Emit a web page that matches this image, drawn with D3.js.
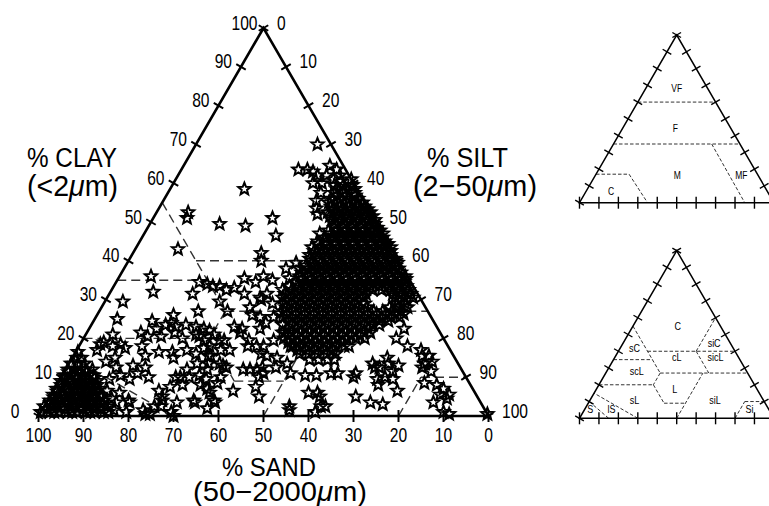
<!DOCTYPE html>
<html>
<head>
<meta charset="utf-8">
<script src="https://cdn.jsdelivr.net/npm/d3@7"></script>
<style>
  body { margin: 0; background: #fff; }
  svg { display: block; }
  text { font-family: "Liberation Sans", Arial, Helvetica, sans-serif; fill: #000; }
</style>
</head>
<body>
<svg id="chart" width="769" height="506"></svg>
<script>
// ---- Data: every sample is [silt %, clay %]; sand % = 100 - silt - clay ----
const tickValues = [0, 10, 20, 30, 40, 50, 60, 70, 80, 90, 100];

// very sandy samples crowded in the sand corner
const sandyCluster = [
  [0,1],[2,1],[3,1],[4,1],[6,1],[7,1],[8,1],[10,1],[11,1],[12,1],[14,1],[15,1],[16,1.5],
  [1,1.8],[2.5,1.8],[5,1.8],[6.5,1.8],[9,1.8],[11.5,1.8],[13,1.8],
  [0,2.5],[2,2.5],[3,2.5],[4.5,2.5],[6,2.5],[7,2.5],[8.5,2.5],[10,2.5],[11,2.5],[12.5,2.5],[14,2.5],
  [1,3.3],[2.5,3.3],[5,3.3],[7.5,3.3],[9.5,3.3],[12,3.3],
  [0.5,4],[2,4],[3,4],[4.5,4],[6,4],[7,4],[8.5,4],[10,4],[11,4],[12.5,4],[14,4.5],
  [1,4.8],[3.5,4.8],[5.5,4.8],[7.5,4.8],[9.5,4.8],[11.5,4.8],
  [0.5,5.5],[2,5.5],[3,5.5],[4.5,5.5],[6,5.5],[7,5.5],[8.5,5.5],[10,5.5],[11,5.5],
  [1,6.3],[3.5,6.3],[5.5,6.3],[7.5,6.3],[9.5,6.3],
  [0.5,7],[2,7],[3,7],[4.5,7],[6,7],[7,7],[8.5,7],[10,7],
  [1,8],[3.5,8],[5.5,8],[7.5,8],[9,8],
  [0.5,9],[2,9],[3,9],[4.5,9],[6,9],[7,9],[8.5,9],
  [1,9.8],[3.5,9.8],[5.5,9.8],[7.5,9.8],
  [0.5,10.5],[2,10.5],[3,10.5],[4.5,10.5],[6,10.5],[7,10.5],
  [1,11.3],[3,11.3],[5,11.3],
  [0.5,12],[2,12],[3.5,12],[4.5,12],[6,12],
  [0.5,13.5],[2,13.5],[3.5,13.5],[1,15],[2,15],[0.5,16.5]
];

// silty-clay to silt-loam samples forming the dense band
const siltyBand = [
  [26,63.5],[28,63.5],[29.5,63],[31,62],[32.5,64.5],[34.5,63.5],[35,61],[27,70],[39,61],
  [31,60],[33,60],[33,62],[36,62],[37,60.5],
  [36,59.5],[38,59.5],[40,59.5],
  [37,58.5],[39,58.5],[41,58.5],
  [34,57.5],[37,57.5],[39,57.5],[41.5,57.5],
  [38,56.8],[40,56.8],[42,56.8],
  [34,55.5],[37,56],[39,56],[41,56],[43,56],
  [37,55],[39,55],[41,55],[43,55],[44.5,55],
  [35,53.5],[38,54],[40,54],[42,54],[44,54],[45.5,54],
  [39,53.3],[41,53.3],[43,53.3],[45,53.3],[46.5,53.3],
  [36,52],[38,52.5],[40,52.5],[42,52.5],[44,52.5],[46,52.5],[47.5,52.5],
  [39,51.5],[41,51.5],[43,51.5],[45,51.5],[47,51.5],[48.5,51.5],
  [40,50.5],[42,50.5],[44,50.5],[46,50.5],[48,50.5],[49.5,50.5],
  [41,49.5],[43,49.5],[45,49.5],[47,49.5],[49,49.5],[50,49.5],
  [41.5,48.5],[43.5,48.5],[45.5,48.5],[47.5,48.5],[49.5,48.5],[51,48.5],
  [40.5,47.8],[42.5,47.8],[44.5,47.8],[46.5,47.8],[48.5,47.8],[50.5,47.8],[52,47.8],
  [39,47],[41.5,47],[43.5,47],[45.5,47],[47.5,47],[49.5,47],[51.5,47],[53,47],
  [40.5,46],[42.5,46],[44.5,46],[46.5,46],[48.5,46],[50.5,46],[52.5,46],[53.5,46],
  [39.5,45],[41.5,45],[43.5,45],[45.5,45],[47.5,45],[49.5,45],[51.5,45],[53.5,45],[54.5,45],
  [40,44.3],[42,44.3],[44,44.3],[46,44.3],[48,44.3],[50,44.3],[52,44.3],[54,44.3],[55.5,44.3],
  [39,43.5],[41,43.5],[43,43.5],[45,43.5],[47,43.5],[49,43.5],[51,43.5],[53,43.5],[55,43.5],[56.5,43.5],
  [40,42.5],[42,42.5],[44,42.5],[46,42.5],[48,42.5],[50,42.5],[52,42.5],[54,42.5],[56,42.5],[57,42.5],
  [39.5,41.5],[41.5,41.5],[43.5,41.5],[45.5,41.5],[47.5,41.5],[49.5,41.5],[51.5,41.5],[53.5,41.5],[55.5,41.5],[57.5,41.5],
  [40,40.5],[42,40.5],[44,40.5],[46,40.5],[48,40.5],[50,40.5],[52,40.5],[54,40.5],[56,40.5],[58,40.5],[59,40.5],
  [41,39.5],[43,39.5],[45,39.5],[47,39.5],[49,39.5],[51,39.5],[53,39.5],[55,39.5],[57,39.5],[59,39.5],[60,39.5],
  [40,38.8],[42,38.8],[44,38.8],[46,38.8],[48,38.8],[50,38.8],[52,38.8],[54,38.8],[56,38.8],[58,38.8],[60,38.8],
  [39,38],[41,38],[43,38],[45,38],[47,38],[49,38],[51,38],[53,38],[55,38],[57,38],[59,38],[61,38],
  [40,37],[42,37],[44,37],[46,37],[48,37],[50,37],[52,37],[54,37],[56,37],[58,37],[60,37],[62,37],
  [40,36],[42,36],[44,36],[46,36],[48,36],[50,36],[52,36],[54,36],[56,36],[58,36],[60,36],[62,36],[63.5,36],
  [41,35.3],[43,35.3],[45,35.3],[47,35.3],[49,35.3],[51,35.3],[53,35.3],[55,35.3],[57,35.3],[59,35.3],[61,35.3],[63,35.3],[64,35.3],
  [40,34.5],[42,34.5],[44,34.5],[46,34.5],[48,34.5],[50,34.5],[52,34.5],[54,34.5],[56,34.5],[58,34.5],[60,34.5],[62,34.5],[64,34.5],
  [39,33.5],[41,33.5],[43,33.5],[45,33.5],[47,33.5],[49,33.5],[51,33.5],[53,33.5],[55,33.5],[57,33.5],[59,33.5],[61,33.5],[63,33.5],[65,33.5],
  [38,32.5],[40,32.5],[42,32.5],[44,32.5],[46,32.5],[48,32.5],[50,32.5],[52,32.5],[54,32.5],[56,32.5],[58,32.5],[60,32.5],[62,32.5],[64,32.5],[66,32.5],
  [39,31.5],[41,31.5],[43,31.5],[45,31.5],[47,31.5],[49,31.5],[51,31.5],[53,31.5],[55,31.5],[57,31.5],[63,31.5],[65,31.5],[67,31.5],
  [39,30.5],[41,30.5],[43,30.5],[45,30.5],[47,30.5],[49,30.5],[51,30.5],[53,30.5],[55,30.5],[57,30.5],[64,30.5],[66,30.5],[68,30.5],
  [40,29.8],[42,29.8],[44,29.8],[46,29.8],[48,29.8],[50,29.8],[52,29.8],[54,29.8],[56,29.8],[65,29.8],[67,29.8],
  [40,29],[42,29],[44,29],[46,29],[48,29],[50,29],[52,29],[54,29],[56,29],[58,29],[65,29],[67,29],
  [41,28],[43,28],[45,28],[47,28],[49,28],[51,28],[53,28],[55,28],[57,28],[59,28],[64,28],[66,28],[68,28],
  [41,27],[43,27],[45,27],[47,27],[49,27],[51,27],[53,27],[55,27],[57,27],[59,27],[61,27],[63,27],[65,27],[67,27],
  [42,26.3],[44,26.3],[46,26.3],[48,26.3],[50,26.3],[52,26.3],[54,26.3],[56,26.3],[58,26.3],[60,26.3],[62,26.3],[64,26.3],[66,26.3],[68,26.3],
  [41.5,25.5],[43.5,25.5],[45.5,25.5],[47.5,25.5],[49.5,25.5],[51.5,25.5],[53.5,25.5],[55.5,25.5],[57.5,25.5],[59.5,25.5],[61.5,25.5],[63.5,25.5],[65.5,25.5],[67.5,25.5],
  [43.5,24.5],[45.5,24.5],[47.5,24.5],[49.5,24.5],[51.5,24.5],[53.5,24.5],[55.5,24.5],[57.5,24.5],[59.5,24.5],[61.5,24.5],[63.5,24.5],[65.5,24.5],
  [42.5,23.5],[44.5,23.5],[46.5,23.5],[48.5,23.5],[50.5,23.5],[52.5,23.5],[54.5,23.5],[56.5,23.5],[58.5,23.5],[60.5,23.5],[62.5,23.5],[64,23.5],
  [44,22.5],[46,22.5],[48,22.5],[50,22.5],[52,22.5],[54,22.5],[56,22.5],[58,22.5],[60,22.5],[62,22.5],
  [43.5,21.5],[45.5,21.5],[47.5,21.5],[49.5,21.5],[51.5,21.5],[53.5,21.5],[55.5,21.5],[57.5,21.5],[59.5,21.5],[61.5,21.5],[63,21.5],
  [45,20.8],[47,20.8],[49,20.8],[51,20.8],[53,20.8],[55,20.8],[57,20.8],[59,20.8],[61,20.8],
  [44.5,20],[46.5,20],[48.5,20],[50.5,20],[52.5,20],[54.5,20],[56.5,20],[58.5,20],[60.5,20],[62.5,20],
  [46,19],[48,19],[50,19],[52,19],[54,19],[56,19],[58,19],
  [47,18],[49,18],[51,18],[53,18],[55,18],[57,18],[59,18],[60,18],
  [49,17],[51,17],[53,17],[55,17],[57,17],
  [50,16],[52,16],[54,16],[56,16],[58,16],
  [53,14.5],[55,14.5],[57,14.5],[58.5,14.5]
];

// remaining, more isolated samples
const scattered = [
  [16.5,58.5],[7,52.5],[7.5,51],[15.5,49.5],[21.5,49],[26.5,51],[29.5,46.5],[9.5,43],[28.5,42],[29.5,40],
  [7,36],[9.5,32],[4,29.5],[5,25],[13,24.5],[18.5,31.5],[22,27],[20.5,34],[22,33.5],[23.5,33.5],
  [25.5,32.5],[27,33],[18.5,34.5],[25.5,29.5],[28.5,27],[28,35.5],[30,31.5],[33,28],[34.5,26],[17,26],
  [17.5,24],[19.5,21.5],[15,22.5],[17,20.5],[12,21.5],[14,20.5],[14,18],[9,18.5],[10.5,17.5],[24.5,21],
  [27,19.5],[28.5,21],[30.5,19.5],[29,18],[24.5,17],[27,16],[21.5,16.5],[22.5,15],[32,23],[34,21.5],
  [37,19.5],[37.5,18],[39.5,18],[38,22.5],[38.5,24],[39.5,25.5],[37.5,29],[34,30.5],[35,31.5],[31,34.5],
  [32,36],[34.5,35],[30.5,15.5],[33.5,13.5],[35.5,12.5],[30.5,10.5],[31.5,12],[35.5,10],[27,12],[25.5,10],
  [28,8],[32,8],[34,7],[40,6.5],[39.5,12],[41,12],[42.5,12],[44.5,11],[44.5,7.5],[46.5,5],
  [37,4],[36.5,2],[32.5,4],[23.5,6.5],[25.5,4],[18,4],[23.5,0.5],[30,0],[36,38],[37.5,39.5],
  [38,35.5],[25.5,22.5],[27,22],[25.5,20.5],[31.5,19.5],[34,17],[34,22.5],[30,15.5],[32,17],[28.5,13.5],
  [34.5,13],[41.5,16],[43,15.5],[45.5,15],[46.5,12.5],[48.5,13.5],[44,10],[32.5,9.5],[35.5,8.5],[35,6],
  [33,3.5],[37.5,3.5],[54.5,2.5],[50.5,11],[54,10.5],[56.5,10.5],[57,6],[59,6],[61.5,2.5],[61,1],
  [59.5,11],[61,11],
  [16.5,23.5],[19,23],[21,23.5],[23.5,23],[6,21],[4.5,18.5],[5,19],[7.5,18],[4.5,17],[16,15.5],
  [17.5,12.5],[19.5,10],[18.5,16.5],[22,20],[28,17.5],[26.5,10],[28.5,10],[25.5,7.5],[25,5],[29,3.5],
  [24.5,2.5],[22.5,1.5],[18.5,3.5],[19,1],[9.5,15],[11,12.5],[13,10.5],[15.5,9.5],[14.5,13],[16.5,11],
  [8,14],[11,9.5],[12,6.5],[15,6],[15.5,3.5],[24.5,0.5],[29,1],[31,13.5],
  [55,1.5],[68,5],[72,3.5],[75,3],[76.5,6.5],[65,11],[67.5,13.5],[69.5,12.5],[71,13.5],[73,11.5],
  [72,10],[70.5,9.5],[74,9.5],[77.5,15.5],[76.5,17],[79,15.5],[79,13.5],[80.5,14],[81.5,11.5],[79,12.5],
  [84.5,8],[86.5,7],[86.5,5.5],[88.5,4.5],[86,3.5],[89.5,1],[43.5,12.5],[70,22.5],[69.5,20],[73,18],
  [70,15],[73.5,13],[68.5,12.5],[71.5,8],[65,10],[81.5,8.5],[99.5,0.5],[26,2.5],[60,5],[62.5,2.5],
  [88.5,5.5],[91,0.5],
  [34.5,30],[40.5,26.5],[36.5,25.5],[42.5,19.5],[41,18],[44,21.5],[47.5,18]
];

// texture-class boundaries, as [silt, clay] end points
const textureBoundaries = [
  [[0,55],[28,27]], [[0,35],[20,35]], [[15,40],[60,40]], [[40,40],[40,60]],
  [[40,40],[53,27]], [[28,27],[73,27]], [[28,27],[28,20]], [[0,20],[28,20]],
  [[28,20],[39,9]], [[39,9],[50,9]], [[50,0],[50,27]], [[80,0],[80,10]],
  [[80,10],[90,10]], [[30,0],[0,15]], [[15,0],[0,10]]
];
const textureNames = ["C","sC","siC","cL","sicL","scL","L","sL","siL","S","lS","Si"];
const textureLabelAt = [[23,55],[7.5,41.5],[47,44.5],[32,36],[52,36],[15.5,28],[40.5,17],[23,10.5],[64.5,10.5],[3,5],[14,5],[85,5]];

// sand-fraction classes (coarse, medium, fine, very fine, medium-fine)
const sandFractionBoundaries = [
  [[0,60],[40,60]], [[0,35],[65,35]], [[50.5,35],[85,0]], [[0,17],[17,17]], [[17,17],[35,0]]
];
const sandFractionNames = ["VF","F","M","MF","C"];
const sandFractionLabelAt = [[16,68],[27,44.5],[42,16.5],[75,16.5],[13,6.5]];

// ---- Drawing ----
const svg = d3.select("#chart");

function ternaryFrame(left, right, base, top) {
  const x = d3.scaleLinear().domain([0, 100]).range([left, right]);
  const y = d3.scaleLinear().domain([0, 100]).range([base, top]);
  return ([silt, clay]) => [x(silt + clay / 2), y(clay)];
}

const mainPos = ternaryFrame(38.5, 488.5, 416, 28);
const topPos = ternaryFrame(579.5, 773.9, 202.7, 35);
const lowPos = ternaryFrame(579.5, 773.9, 418.3, 250.7);

function unitNormal(a, b) {
  const dx = b[0] - a[0], dy = b[1] - a[1], len = Math.hypot(dx, dy);
  return [-dy / len, dx / len];
}

function drawFrame(g, pos, o) {
  const A = pos([0, 0]), B = pos([100, 0]), C = pos([0, 100]);
  // dashed class boundaries
  g.append("g").selectAll("line").data(o.boundaries).join("line")
    .attr("x1", d => pos(d[0])[0]).attr("y1", d => pos(d[0])[1])
    .attr("x2", d => pos(d[1])[0]).attr("y2", d => pos(d[1])[1])
    .attr("stroke", o.dashColor).attr("stroke-width", o.dashWidth)
    .attr("stroke-dasharray", o.dash);
  // outline
  g.append("path").attr("d", d3.line()([A, B, C]) + "Z")
    .attr("fill", "none").attr("stroke", "#000").attr("stroke-width", o.frameWidth)
    .attr("stroke-linejoin", "miter");
  const nl = unitNormal(A, C), nr = unitNormal(C, B);
  const ticks = g.append("g").attr("stroke", "#000").attr("stroke-width", o.tickWidth);
  tickValues.forEach(v => {
    const pb = pos([100 - v, 0]), pl = pos([0, v]), pr = pos([v, 100 - v]);
    ticks.append("line").attr("x1", pb[0]).attr("y1", pb[1] - o.tick)
      .attr("x2", pb[0]).attr("y2", pb[1] + o.tick);
    ticks.append("line").attr("x1", pl[0] - nl[0] * o.edgeTick).attr("y1", pl[1] - nl[1] * o.edgeTick)
      .attr("x2", pl[0] + nl[0] * o.edgeTick).attr("y2", pl[1] + nl[1] * o.edgeTick);
    ticks.append("line").attr("x1", pr[0] - nr[0] * o.edgeTick).attr("y1", pr[1] - nr[1] * o.edgeTick)
      .attr("x2", pr[0] + nr[0] * o.edgeTick).attr("y2", pr[1] + nr[1] * o.edgeTick);
  });
}

function squeezedText(g, str, x, y, anchor, size, sx) {
  return g.append("text")
    .attr("transform", `translate(${x},${y}) scale(${sx},1)`)
    .attr("text-anchor", anchor).attr("font-size", size).text(str);
}

// main triangle
const main = svg.append("g");
drawFrame(main, mainPos, {
  boundaries: textureBoundaries, dash: "9,5", dashColor: "#333", dashWidth: 1.4,
  frameWidth: 2.6, tickWidth: 2, tick: 6, edgeTick: 5.5
});

// star markers
function starPath(R, r) {
  let d = "";
  for (let i = 0; i < 10; i++) {
    const a = -Math.PI / 2 + i * Math.PI / 5, rr = i % 2 ? r : R;
    d += (i ? "L" : "M") + (rr * Math.cos(a)).toFixed(2) + "," + (rr * Math.sin(a)).toFixed(2);
  }
  return d + "Z";
}
const star = starPath(6.4, 2.8);
const samples = [...sandyCluster, ...siltyBand, ...scattered];
main.append("g").selectAll("path").data(samples).join("path")
  .attr("d", star)
  .attr("transform", d => { const p = mainPos(d); return `translate(${p[0]},${p[1]})`; })
  .attr("fill", "none").attr("stroke", "#000").attr("stroke-width", 2.0)
  .attr("stroke-linejoin", "miter");

// tick labels
const labels = main.append("g");
tickValues.forEach(v => {
  const pb = mainPos([100 - v, 0]);
  squeezedText(labels, String(v), pb[0], pb[1] + 26, "middle", 19.5, 0.8);
  const pl = mainPos([0, v]);
  const dx = v === 0 ? -19 : v === 100 ? -6 : -9;
  squeezedText(labels, String(v), pl[0] + dx, pl[1] + 1.5, "end", 19.5, 0.8);
  const pr = mainPos([v, 100 - v]);
  squeezedText(labels, String(v), pr[0] + 13.5, pr[1] + 1.5, "start", 19.5, 0.8);
});

// axis titles
function title(lines) {
  lines.forEach(([str, x, y, size, width]) => {
    const t = svg.append("text").attr("x", x).attr("y", y).attr("font-size", size)
      .attr("textLength", width).attr("lengthAdjust", "spacingAndGlyphs");
    const mu = str.indexOf("μ");
    if (mu < 0) { t.text(str); return; }
    t.append("tspan").text(str.slice(0, mu));
    t.append("tspan").attr("font-style", "italic").text("μ");
    t.append("tspan").text(str.slice(mu + 1));
  });
}
title([
  ["% CLAY", 27, 167, 27, 90],
  ["(<2μm)", 27, 196, 29, 91],
  ["% SILT", 427, 167, 27, 81],
  ["(2−50μm)", 413, 196, 29, 124],
  ["% SAND", 222, 476, 25, 94],
  ["(50−2000μm)", 193, 501, 28, 174]
]);

// small reference triangles
const frameSmall = { dash: "3.5,2", dashColor: "#333", dashWidth: 1, frameWidth: 1.5, tickWidth: 1.4, tick: 6, edgeTick: 5 };
const topTri = svg.append("g");
drawFrame(topTri, topPos, { ...frameSmall, boundaries: sandFractionBoundaries });
sandFractionNames.forEach((n, i) => {
  const p = topPos(sandFractionLabelAt[i]);
  squeezedText(topTri, n, p[0], p[1] + 3.5, "middle", 10, 0.85).attr("fill", "#333");
});
const lowTri = svg.append("g");
drawFrame(lowTri, lowPos, { ...frameSmall, boundaries: textureBoundaries });
textureNames.forEach((n, i) => {
  const p = lowPos(textureLabelAt[i]);
  squeezedText(lowTri, n, p[0], p[1] + 3.5, "middle", 10, 0.9).attr("fill", "#333");
});
</script>
</body>
</html>
